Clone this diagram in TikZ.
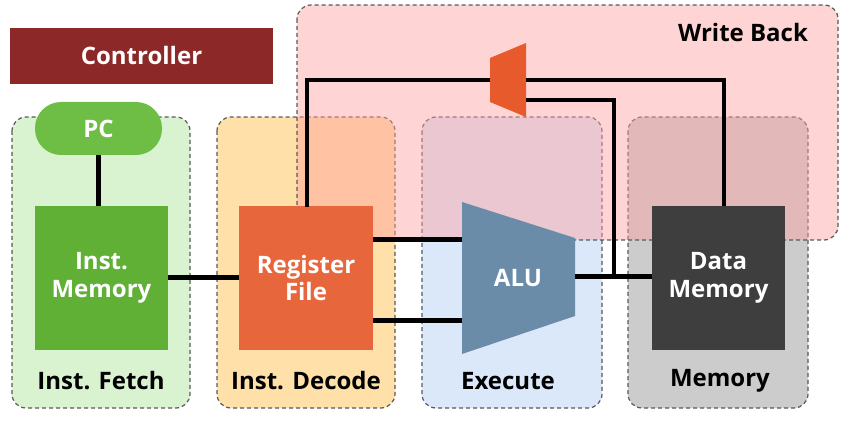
\documentclass[tikz,border=0pt]{standalone}
\usepackage{fontspec}
\setmainfont{Open Sans}
\definecolor{ctlc}{RGB}{140,40,40}
\definecolor{pcc}{RGB}{110,190,70}
\definecolor{imc}{RGB}{96,176,54}
\definecolor{rfc}{RGB}{232,102,60}
\definecolor{dmc}{RGB}{62,62,62}
\definecolor{aluc}{RGB}{106,140,168}
\definecolor{muxc}{RGB}{230,90,44}
\definecolor{fetc}{RGB}{217,242,208}
\definecolor{decc}{RGB}{255,224,168}
\definecolor{exc}{RGB}{218,232,250}
\definecolor{memc}{RGB}{204,204,204}
\definecolor{wbc}{RGB}{255,160,160}
\begin{document}
\begin{tikzpicture}[x=1pt,y=-1pt,
  stage/.style={draw=black!65,dash pattern=on 4pt off 3pt,rounded corners=14pt,line width=1.2pt},
  blk/.style={inner sep=0pt,text=white,font=\bfseries\fontsize{24}{28}\selectfont,align=center},
  lbl/.style={font=\bfseries\fontsize{24}{28}\selectfont},
  wire/.style={line width=5pt,black}]
\useasboundingbox (0,0) rectangle (849,422);
% stages
\draw[stage,fill=fetc] (12,117) rectangle (190,408);
\draw[stage,fill=decc] (217,117) rectangle (395,408);
\draw[stage,fill=exc] (422,117) rectangle (602,408);
\draw[stage,fill=memc] (628,117) rectangle (808,408);
\node[lbl] (lf) at (101,381) {Inst. Fetch};
\node[lbl] (ld) at (306,381) {Inst. Decode};
\node[lbl] (le) at (508,381) {Execute};
\node[lbl] (lm) at (720,381) {Memory};
% write back
\draw[stage,fill=wbc,fill opacity=0.45] (297,5) rectangle (838,240);
\node[lbl] (lw) at (743,33) {Write Back};
% controller
\node[blk,fill=ctlc,minimum width=263pt,minimum height=56pt] (ctl) at (141.5,56) {Controller};
% blocks
\node[blk,fill=pcc,rounded corners=26pt,minimum width=127pt,minimum height=53pt] (pc) at (98.5,128.5) {PC};
\node[blk,fill=imc,minimum width=133pt,minimum height=144pt] (im) at (101.5,278) {Inst.\\Memory};
\node[blk,fill=rfc,minimum width=134pt,minimum height=144pt] (rf) at (306,278) {Register\\File};
\node[blk,fill=dmc,minimum width=133pt,minimum height=144pt] (dm) at (718.5,278) {Data\\Memory};
\fill[aluc] (462,202) -- (575,238) -- (575,316) -- (462,354) -- cycle;
\node[blk] (alu) at (518,278) {ALU};
\fill[muxc] (490,58) -- (526,43) -- (526,117) -- (490,102) -- cycle;
\coordinate (muxl) at (490,80);
\coordinate (muxr) at (526,80);
\coordinate (muxr2) at (526,100);
% wires
\draw[wire] (pc.south -| 98,0) -- (im.north -| 98,0);
\draw[wire] (im.east) -- (rf.west);
\draw[wire] (373,240) -- (462,240);
\draw[wire] (373,320) -- (462,320);
\draw[wire] (575,277) -- (dm.west |- 0,277);
\draw[line width=4pt] (307,207) -- (307,80) -- (muxl);
\draw[line width=4pt] (muxr) -- (724,80) -- (724,206);
\draw[line width=4pt] (muxr2) -- (614,100) -- (614,277);
\end{tikzpicture}
\end{document}
